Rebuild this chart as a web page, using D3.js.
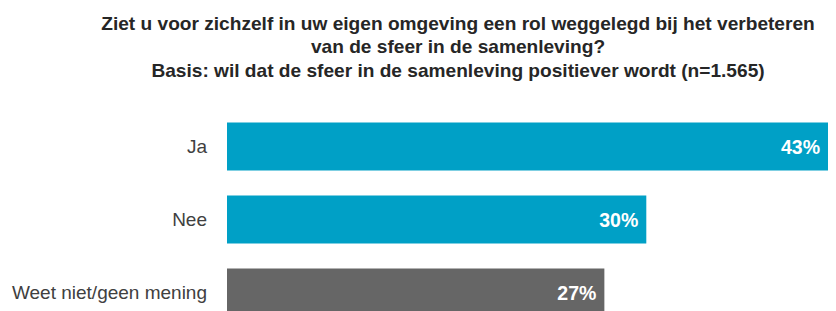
<!DOCTYPE html>
<html>
<head>
<meta charset="utf-8">
<script src="https://cdn.jsdelivr.net/npm/d3@7"></script>
<style>
  body { margin: 0; background: #fff; }
  svg { display: block; }
</style>
</head>
<body>
<div id="chart"></div>
<script>
// data
const categories = ['Ja', 'Nee', 'Weet niet/geen mening'];
const values = [43, 30, 27];
const barColors = ['#00A0C6', '#00A0C6', '#666666'];
const titleLines = [
    'Ziet u voor zichzelf in uw eigen omgeving een rol weggelegd bij het verbeteren',
    'van de sfeer in de samenleving?',
    'Basis: wil dat de sfeer in de samenleving positiever wordt (n=1.565)'
];

const width = 836;
const height = 311;

const svg = d3.select('#chart')
    .append('svg')
    .attr('width', width)
    .attr('height', height);

// title, condensed to match the narrow bold face
const titleG = svg.append('g');
const titles = titleG.selectAll('.title')
    .data(titleLines)
    .enter()
    .append('text')
    .classed('title', true)
    .attr('x', 0)
    .attr('y', (d, i) => 30 + i * 23.3)
    .attr('text-anchor', 'middle')
    .style('font-family', '"Liberation Sans", Arial, sans-serif')
    .style('font-weight', 'bold')
    .style('font-size', '19px')
    .style('fill', '#262626')
    .text(d => d);

const w0 = titles.node().getComputedTextLength();
const sx = 714 / w0;
titleG.attr('transform', `translate(458,0) scale(${sx},1)`);

const xScale = d3.scaleLinear()
    .domain([0, 43])
    .range([227, 828]);

const yScale = d3.scaleBand()
    .domain(categories)
    .range([110, 329])
    .paddingInner(25 / 73)
    .paddingOuter(12.5 / 73);

const data = categories.map((c, i) => ({ cat: c, value: values[i], color: barColors[i] }));

svg.selectAll('.bar')
    .data(data)
    .enter()
    .append('rect')
    .classed('bar', true)
    .attr('x', xScale(0))
    .attr('y', d => yScale(d.cat))
    .attr('width', d => xScale(d.value) - xScale(0))
    .attr('height', yScale.bandwidth())
    .style('fill', d => d.color);

// category labels
svg.selectAll('.cat-label')
    .data(data)
    .enter()
    .append('text')
    .classed('cat-label', true)
    .attr('x', 207)
    .attr('y', d => yScale(d.cat) + yScale.bandwidth() / 2)
    .attr('dy', '0.36em')
    .attr('text-anchor', 'end')
    .style('font-family', '"Liberation Sans", Arial, sans-serif')
    .style('font-size', '19px')
    .style('fill', '#404040')
    .text(d => d.cat);

// value labels
svg.selectAll('.bar-label')
    .data(data)
    .enter()
    .append('text')
    .classed('bar-label', true)
    .attr('x', d => xScale(d.value) - 8)
    .attr('y', d => yScale(d.cat) + yScale.bandwidth() / 2)
    .attr('dy', '0.36em')
    .attr('text-anchor', 'end')
    .style('font-family', '"Liberation Sans", Arial, sans-serif')
    .style('font-weight', 'bold')
    .style('font-size', '19.5px')
    .style('fill', '#fff')
    .text(d => d.value + '%');
</script>
</body>
</html>
